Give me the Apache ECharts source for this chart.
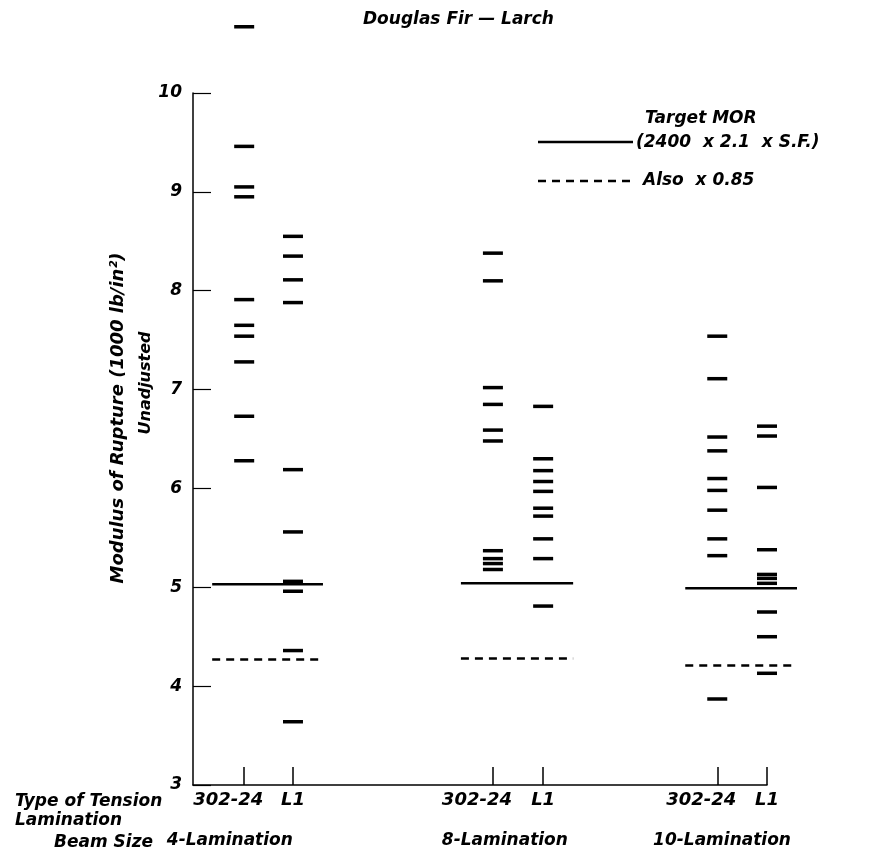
<!DOCTYPE html>
<html>
<head>
<meta charset="utf-8">
<script src="https://cdn.jsdelivr.net/npm/echarts@6/dist/echarts.min.js"></script>
<style>
  html, body { margin: 0; padding: 0; background: #fff; }
  #chart { width: 869px; height: 858px; }
</style>
</head>
<body>
<div id="chart"></div>
<script>
// beam sizes and tension lamination types
const groups = ['4-Lamination', '8-Lamination', '10-Lamination']
const types = ['302-24', 'L1']

// MOR of each beam, 1000 lb/in2
const lam4_302 = [10.67, 9.46, 9.05, 8.95, 7.91, 7.65, 7.54, 7.28, 6.73, 6.28]
const lam4_L1 = [8.55, 8.35, 8.11, 7.88, 6.19, 5.56, 5.06, 4.96, 4.36, 3.64]
const lam8_302 = [8.38, 8.10, 7.02, 6.85, 6.59, 6.48, 5.37, 5.29, 5.24, 5.18]
const lam8_L1 = [6.83, 6.30, 6.18, 6.07, 5.97, 5.80, 5.72, 5.49, 5.29, 4.81]
const lam10_302 = [7.54, 7.11, 6.52, 6.38, 6.10, 5.98, 5.78, 5.49, 5.32, 3.87]
const lam10_L1 = [6.63, 6.53, 6.01, 5.38, 5.13, 5.09, 5.04, 4.75, 4.50, 4.13]

// target MOR per beam size, and target x 0.85
const targetMOR = [5.03, 5.04, 4.99]
const alsoMOR = [4.27, 4.28, 4.21]

const columns = [lam4_302, lam4_L1, lam8_302, lam8_L1, lam10_302, lam10_L1]

// layout: where each column sits along the x axis (0..12)
const colPos = [1.07, 2.09, 6.27, 7.32, 10.96, 12]
const groupLabelPos = [0.77, 6.52, 11.06]

const FONT = 'DejaVu Sans'
const txt = (size) => ({ fontFamily: FONT, fontStyle: 'italic', fontWeight: 'bold', fontSize: size, color: '#000' })
const gfont = (size) => 'italic bold ' + size + 'px "DejaVu Sans"'

const dashData = []
columns.forEach((vals, ci) => {
  vals.forEach(v => dashData.push([colPos[ci], v]))
})

function targetLine(values, dashed) {
  return {
    type: 'custom',
    clip: false,
    silent: true,
    data: values.map((v, gi) => [gi, v]),
    renderItem(params, api) {
      const gi = api.value(0)
      const v = api.value(1)
      const a = api.coord([colPos[gi * 2], v])
      const b = api.coord([colPos[gi * 2 + 1], v])
      return {
        type: 'line',
        shape: { x1: a[0] - 32, y1: a[1], x2: b[0] + 30, y2: b[1] },
        style: { stroke: '#000', lineWidth: 2.5, lineDash: dashed ? [8, 6] : null }
      }
    }
  }
}

const chart = echarts.init(document.getElementById('chart'))

const option = {
  backgroundColor: '#fff',
  animation: false,
  grid: { left: 193, right: 102, top: 93, bottom: 73 },
  xAxis: [{
    type: 'value',
    min: 0,
    max: 12,
    splitLine: { show: false },
    axisLine: { lineStyle: { color: '#000', width: 1.5 } },
    axisTick: { inside: true, length: 18, customValues: colPos, lineStyle: { color: '#000', width: 1.5 } },
    axisLabel: {
      customValues: colPos,
      margin: 6,
      formatter(val) {
        const i = colPos.indexOf(val)
        return i % 2 === 0 ? '{a|' + types[0] + '}' : '{b|' + types[1] + '}'
      },
      rich: {
        a: Object.assign(txt(18), { padding: [0, 32, 0, 0] }),
        b: txt(18)
      }
    }
  }, {
    type: 'value',
    position: 'bottom',
    min: 0,
    max: 12,
    splitLine: { show: false },
    axisLine: { show: false },
    axisTick: { show: false },
    axisLabel: Object.assign(txt(17), {
      customValues: groupLabelPos,
      margin: 47,
      formatter(val) {
        return groups[groupLabelPos.indexOf(val)]
      }
    })
  }],
  yAxis: {
    type: 'value',
    min: 3,
    max: 10,
    interval: 1,
    splitLine: { show: false },
    axisLine: { show: true, lineStyle: { color: '#000', width: 1.5 } },
    axisTick: { inside: true, length: 18, lineStyle: { color: '#000', width: 1.2 } },
    axisLabel: Object.assign(txt(17), { margin: 11 })
  },
  graphic: [
    { type: 'text', x: 363, y: 20, style: { text: 'Douglas Fir — Larch', font: gfont(17), fill: '#000', verticalAlign: 'middle' } },
    { type: 'text', x: 118, y: 418, rotation: Math.PI / 2, style: { text: 'Modulus of Rupture (1000 lb/in²)', font: gfont(18), fill: '#000', align: 'center', verticalAlign: 'middle' } },
    { type: 'text', x: 146, y: 383, rotation: Math.PI / 2, style: { text: 'Unadjusted', font: gfont(16), fill: '#000', align: 'center', verticalAlign: 'middle' } },
    { type: 'text', x: 15, y: 802, style: { text: 'Type of Tension', font: gfont(17), fill: '#000', verticalAlign: 'middle' } },
    { type: 'text', x: 15, y: 821, style: { text: 'Lamination', font: gfont(17), fill: '#000', verticalAlign: 'middle' } },
    { type: 'text', x: 54, y: 843, style: { text: 'Beam Size', font: gfont(17), fill: '#000', verticalAlign: 'middle' } },
    // legend
    { type: 'line', shape: { x1: 538, y1: 142, x2: 633, y2: 142 }, style: { stroke: '#000', lineWidth: 2.5 } },
    { type: 'text', x: 645, y: 119, style: { text: 'Target MOR', font: gfont(17), fill: '#000', verticalAlign: 'middle' } },
    { type: 'text', x: 636, y: 143, style: { text: '(2400  x 2.1  x S.F.)', font: gfont(17), fill: '#000', verticalAlign: 'middle' } },
    { type: 'line', shape: { x1: 538, y1: 181, x2: 632, y2: 181 }, style: { stroke: '#000', lineWidth: 2.5, lineDash: [8, 6] } },
    { type: 'text', x: 643, y: 181, style: { text: 'Also  x 0.85', font: gfont(17), fill: '#000', verticalAlign: 'middle' } }
  ],
  series: [
    {
      type: 'custom',
      clip: false,
      silent: true,
      data: dashData,
      renderItem(params, api) {
        const p = api.coord([api.value(0), api.value(1)])
        return {
          type: 'rect',
          shape: { x: p[0] - 10, y: p[1] - 1.75, width: 20, height: 3.5 },
          style: { fill: '#000' }
        }
      }
    },
    targetLine(targetMOR, false),
    targetLine(alsoMOR, true)
  ]
}

chart.setOption(option)
</script>
</body>
</html>
